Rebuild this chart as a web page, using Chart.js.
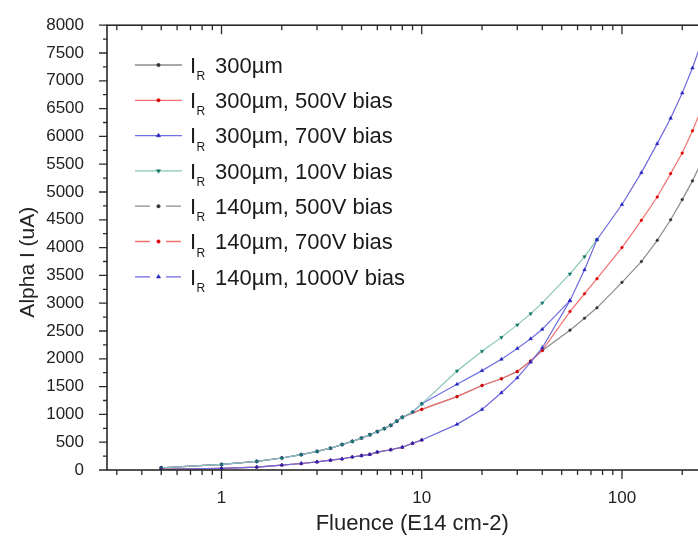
<!DOCTYPE html>
<html>
<head>
<meta charset="utf-8">
<script src="https://cdn.jsdelivr.net/npm/chart.js@4.4.1/dist/chart.umd.min.js"></script>
<style>
  html, body { margin: 0; padding: 0; background: #fff; overflow: hidden; }
  #wrap { width: 698px; height: 544px; overflow: hidden; }
</style>
</head>
<body>
<div id="wrap"><canvas id="chart" width="722" height="544"></canvas></div>
<script>
// 300um curves all run together at low fluence
const fluence300 = [0.5, 1, 1.5, 2, 2.5, 3, 3.5, 4, 4.5, 5, 5.5, 6, 6.5, 7, 7.5, 8];
const current300 = [40, 100, 155, 216, 276, 334, 392, 457, 515, 574, 633, 690, 744, 803, 879, 949];

// no-bias and 500V split off at ~8, overlap up to 40
const fluenceSplit = [10, 15, 20, 25, 30, 35, 40];
const currentSplit = [1090, 1320, 1520, 1640, 1770, 1960, 2150];

const fluenceHigh = [55, 65, 75, 100, 125, 150, 175, 200, 225, 250];
const currentNoBias = [2515, 2730, 2917, 3375, 3749, 4130, 4500, 4863, 5200, 5550];
const current500 = [2850, 3170, 3440, 4000, 4490, 4910, 5330, 5700, 6100, 6500];

// 700V and 100V stay together up to 10
const fluenceMid = [9, 10, 15, 20, 25, 30, 35, 40, 55];
const current700 = [1042, 1190, 1541, 1787, 1991, 2185, 2360, 2531, 3046];
const fluence100 = [9, 10, 15, 20, 25, 30, 35, 40, 55, 65, 75];
const current100 = [1042, 1190, 1780, 2135, 2385, 2610, 2812, 3005, 3527, 3837, 4142];

// 140um curves (lower branch)
const fluence140 = [0.5, 1, 1.5, 2, 2.5, 3, 3.5, 4, 4.5, 5, 5.5, 6, 7, 8, 9, 10, 15, 20, 25, 30, 35, 40];
const current140 = [10, 30, 52, 88, 117, 146, 176, 199, 234, 258, 281, 322, 364, 410, 480, 540, 821, 1090, 1390, 1657, 1940, 2200];
const current1000 = [3046, 3600, 4142, 4775, 5348, 5870, 6327, 6779, 7230, 7700];

const seriesNames = ['300\u00b5m', '300\u00b5m, 500V bias', '300\u00b5m, 700V bias', '300\u00b5m, 100V bias',
  '140\u00b5m, 500V bias', '140\u00b5m, 700V bias', '140\u00b5m, 1000V bias'];

const xMajor = [1, 10, 100];
const xMinor = [0.3, 0.4, 0.5, 0.6, 0.7, 0.8, 0.9, 2, 3, 4, 5, 6, 7, 8, 9, 20, 30, 40, 50, 60, 70, 80, 90, 200, 300];

const FONT = '"Liberation Sans", Arial, sans-serif';

function pts(xs, ys) {
    return xs.map((x, i) => ({ x: x, y: ys[i] }));
}

function series(i, data, line, mark, style, rot, dash) {
    return {
        label: seriesNames[i],
        data: data,
        borderColor: line,
        borderWidth: 1.2,
        pointBackgroundColor: mark,
        pointBorderColor: mark,
        pointBorderWidth: 0.5,
        pointStyle: style,
        pointRotation: rot,
        pointRadius: style === 'circle' ? 1.3 : 2.0,
        tension: 0,
        order: 6 - i,
        legendDash: dash
    };
}

const datasets = [
    series(0, pts(fluence300.concat(fluenceSplit, fluenceHigh), current300.concat(currentSplit, currentNoBias)),
        '#8c8c8c', '#333', 'circle', 0, null),
    series(1, pts(fluence300.concat(fluenceSplit, fluenceHigh), current300.concat(currentSplit, current500)),
        '#f27272', '#d00', 'circle', 0, null),
    series(2, pts(fluence300.concat(fluenceMid), current300.concat(current700)),
        '#7171e4', '#22b', 'triangle', 0, null),
    series(3, pts(fluence300.concat(fluence100), current300.concat(current100)),
        '#86c6b6', '#176', 'triangle', 180, null),
    series(4, pts(fluence140.slice(0, 16), current140.slice(0, 16)),
        '#8c8c8c', '#333', 'circle', 0, [15, 16]),
    series(5, pts(fluence140.slice(0, 16), current140.slice(0, 16)),
        '#f27272', '#d00', 'circle', 0, [15, 16]),
    series(6, pts(fluence140.concat(fluenceHigh), current140.concat(current1000)),
        '#6f68dc', '#22b', 'triangle', 0, [15, 16])
];

// box, minor and major tick marks
const frame = {
    id: 'frame',
    afterDatasetsDraw(chart) {
        const { ctx, chartArea: a, scales: { x, y } } = chart;
        ctx.save();
        ctx.strokeStyle = '#2a2a2a';
        ctx.lineWidth = 1.6;
        ctx.strokeRect(a.left, a.top, a.right - a.left, a.bottom - a.top);
        ctx.lineWidth = 1.3;
        ctx.beginPath();
        xMajor.concat(xMinor).forEach(v => {
            const px = x.getPixelForValue(v);
            const len = xMajor.includes(v) ? 9 : 5;
            ctx.moveTo(px, a.bottom);
            ctx.lineTo(px, a.bottom + len);
            ctx.moveTo(px, a.top);
            ctx.lineTo(px, a.top + len);
        });
        for (let v = 0; v <= 8000; v += 250) {
            const py = y.getPixelForValue(v);
            const len = v % 500 === 0 ? 8 : 4;
            ctx.moveTo(a.left, py);
            ctx.lineTo(a.left - len, py);
        }
        ctx.stroke();
        ctx.restore();
    }
};

// legend inside the plot, with I_R subscript
const legendBox = {
    id: 'legendBox',
    afterDraw(chart) {
        const ctx = chart.ctx;
        chart.data.datasets.forEach((ds, i) => {
            const yy = 65 + i * 35.3;
            ctx.save();
            ctx.strokeStyle = ds.borderColor;
            ctx.lineWidth = 1.3;
            if (ds.legendDash) ctx.setLineDash(ds.legendDash);
            ctx.beginPath();
            ctx.moveTo(135, yy);
            ctx.lineTo(182, yy);
            ctx.stroke();
            ctx.setLineDash([]);
            ctx.fillStyle = ds.pointBackgroundColor;
            ctx.strokeStyle = ds.pointBorderColor;
            ctx.lineWidth = 0.5;
            Chart.helpers.drawPoint(ctx, {
                pointStyle: ds.pointStyle, radius: ds.pointRadius + 0.4,
                rotation: ds.pointRotation, borderWidth: 0.5
            }, 158.5, yy);
            ctx.fillStyle = '#1a1a1a';
            ctx.textBaseline = 'alphabetic';
            ctx.font = '22px ' + FONT;
            ctx.fillText('I', 190, yy + 7.8);
            ctx.font = '12px ' + FONT;
            ctx.fillText('R', 196.5, yy + 15);
            ctx.font = '22px ' + FONT;
            ctx.fillText(ds.label, 215, yy + 7.8);
            ctx.restore();
        });
    }
};

new Chart(document.getElementById('chart'), {
    type: 'line',
    data: { datasets: datasets },
    options: {
        responsive: false,
        animation: false,
        devicePixelRatio: 1,
        layout: { padding: { top: 15, left: 0, right: 0, bottom: 0 } },
        plugins: { legend: { display: false }, tooltip: { enabled: false } },
        scales: {
            x: {
                type: 'logarithmic',
                min: 0.268,
                max: 300,
                grid: { display: false },
                border: { display: false },
                afterBuildTicks: s => { s.ticks = xMajor.map(v => ({ value: v })); },
                afterFit: s => { s.height = 74; },
                ticks: {
                    callback: v => String(v), padding: 10, autoSkip: false, maxRotation: 0,
                    color: '#222', font: { family: FONT, size: 17 }
                },
                title: {
                    display: true, text: 'Fluence (E14 cm-2)', color: '#222',
                    font: { family: FONT, size: 22 }, padding: { bottom: 7 }
                }
            },
            y: {
                min: 0,
                max: 8000,
                grid: { display: false },
                border: { display: false },
                afterFit: s => { s.width = 107; },
                ticks: {
                    stepSize: 500, padding: 15, color: '#222',
                    callback: v => String(v),
                    font: { family: FONT, size: 17 }
                },
                title: {
                    display: true, text: 'Alpha I (uA)     ', color: '#222',
                    font: { family: FONT, size: 21 }, padding: { top: 16 }
                }
            }
        }
    },
    plugins: [frame, legendBox]
});
</script>
</body>
</html>
